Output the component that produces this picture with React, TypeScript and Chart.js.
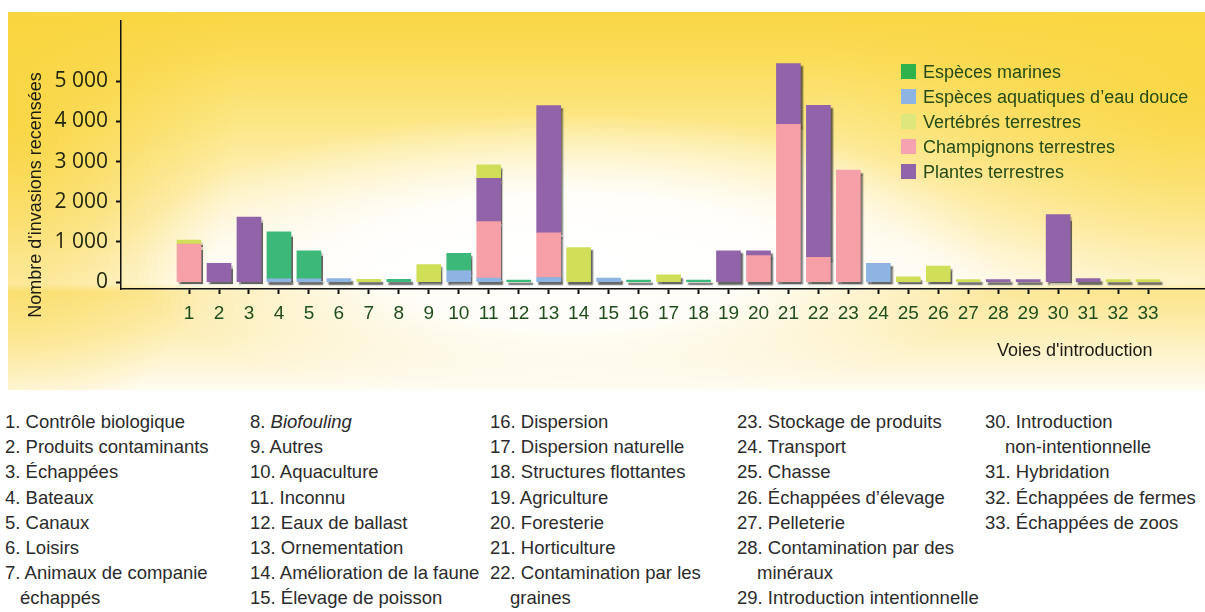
import React, { useEffect, useRef } from "react";
import { Chart, registerables } from "chart.js";

Chart.register(...registerables);

// ---------- Data ----------
const categories = [
  "1", "2", "3", "4", "5", "6", "7", "8", "9", "10", "11", "12", "13", "14", "15", "16", "17",
  "18", "19", "20", "21", "22", "23", "24", "25", "26", "27", "28", "29", "30", "31", "32", "33",
];

const yTickValues = [0, 1000, 2000, 3000, 4000, 5000];
const yTickLabels = ["0", "1 000", "2 000", "3 000", "4 000", "5 000"];

// Stack order (bottom -> top)
const freshwater = [0, 0, 0, 80, 80, 90, 0, 0, 0, 290, 100, 0, 115, 0, 100, 0, 0, 0, 0, 0, 0, 0, 0, 470, 0, 0, 0, 0, 0, 0, 0, 0, 0];
const marine = [0, 0, 0, 1170, 700, 0, 0, 70, 0, 425, 0, 50, 0, 0, 0, 50, 0, 50, 0, 0, 0, 0, 0, 0, 0, 0, 0, 0, 0, 0, 0, 0, 0];
const fungi = [950, 0, 0, 0, 0, 0, 0, 0, 0, 0, 1410, 0, 1110, 0, 0, 0, 0, 0, 0, 660, 3930, 620, 2790, 0, 0, 0, 0, 0, 0, 0, 0, 0, 0];
const plants = [0, 470, 1620, 0, 0, 0, 0, 0, 0, 0, 1075, 0, 3170, 0, 0, 0, 0, 0, 780, 120, 1510, 3780, 0, 0, 0, 0, 0, 65, 65, 1680, 90, 0, 0];
const vertebrates = [100, 0, 0, 0, 0, 0, 70, 0, 440, 0, 335, 0, 0, 860, 0, 0, 180, 0, 0, 0, 0, 0, 0, 0, 130, 400, 65, 0, 0, 0, 0, 65, 65];

const seriesLabels = [
  "Espèces aquatiques d’eau douce",
  "Espèces marines",
  "Champignons terrestres",
  "Plantes terrestres",
  "Vertébrés terrestres",
];
const seriesColors = ["#8db4e2", "#3cb878", "#f59fa7", "#9163a9", "#d1de58"];
const legendOrder = [1, 0, 4, 2, 3];
const legendBoxColors = ["#8db4e2", "#2fb24c", "#f6a2b0", "#9163a9", "#dde77c"];

const yAxisTitle = "Nombre d'invasions recensées";
const xAxisTitle = "Voies d'introduction";

const routeNames = [
  "Contrôle biologique",
  "Produits contaminants",
  "Échappées",
  "Bateaux",
  "Canaux",
  "Loisirs",
  "Animaux de companie\néchappés",
  "Biofouling",
  "Autres",
  "Aquaculture",
  "Inconnu",
  "Eaux de ballast",
  "Ornementation",
  "Amélioration de la faune",
  "Élevage de poisson",
  "Dispersion",
  "Dispersion naturelle",
  "Structures flottantes",
  "Agriculture",
  "Foresterie",
  "Horticulture",
  "Contamination par les\ngraines",
  "Stockage de produits",
  "Transport",
  "Chasse",
  "Échappées d’élevage",
  "Pelleterie",
  "Contamination par des\nminéraux",
  "Introduction intentionnelle",
  "Introduction\nnon-intentionnelle",
  "Hybridation",
  "Échappées de fermes",
  "Échappées de zoos",
];
const italicRoutes = [8];
const routeColumns = [
  [1, 2, 3, 4, 5, 6, 7],
  [8, 9, 10, 11, 12, 13, 14, 15],
  [16, 17, 18, 19, 20, 21, 22],
  [23, 24, 25, 26, 27, 28, 29],
  [30, 31, 32, 33],
];
const columnLeft = [5, 250, 490, 737, 985];

const series = [freshwater, marine, fungi, plants, vertebrates];

// ---------- Plugins ----------
const shadowPlugin = {
  id: "barShadow",
  beforeDatasetsDraw(chart: any) {
    const ctx = chart.ctx;
    ctx.save();
    ctx.shadowColor = "rgba(35,35,35,0.7)";
    ctx.shadowOffsetX = 2;
    ctx.shadowOffsetY = 3;
    ctx.shadowBlur = 1.5;
  },
  afterDatasetsDraw(chart: any) {
    chart.ctx.restore();
  },
};

const annotationPlugin = {
  id: "texts",
  afterDraw(chart: any) {
    const ctx = chart.ctx;
    ctx.save();
    // legend
    ctx.font = "18px 'Liberation Sans', Arial, sans-serif";
    ctx.textBaseline = "middle";
    ctx.textAlign = "left";
    legendOrder.forEach((si, row) => {
      const cy = 72 + row * 25;
      ctx.fillStyle = legendBoxColors[si];
      ctx.fillRect(901, cy - 8, 15, 15);
      ctx.fillStyle = "#234a17";
      ctx.fillText(seriesLabels[si], 923, cy + 1);
    });
    // y axis title
    ctx.save();
    ctx.translate(36, 195);
    ctx.rotate(-Math.PI / 2);
    ctx.textAlign = "center";
    ctx.fillStyle = "#1c1c14";
    ctx.font = "18px 'Liberation Sans', Arial, sans-serif";
    ctx.fillText(yAxisTitle, 0, 0);
    ctx.restore();
    // x axis title
    ctx.fillStyle = "#1c1c14";
    ctx.font = "18px 'Liberation Sans', Arial, sans-serif";
    ctx.textAlign = "left";
    ctx.fillText(xAxisTitle, 997, 351);
    ctx.restore();
  },
};

function BarChart() {
  const ref = useRef<HTMLCanvasElement | null>(null);
  useEffect(() => {
    if (!ref.current) return;
    const chart = new Chart(ref.current, {
      type: "bar",
      data: {
        datasets: series.map((vals, si) => ({
          label: seriesLabels[si],
          data: vals.map((v, i) => ({ x: Number(categories[i]), y: v === 0 ? null : v })),
          backgroundColor: seriesColors[si],
          borderWidth: 0,
          barThickness: 24,
          stack: "all",
        })),
      },
      options: {
        animation: false,
        responsive: false,
        devicePixelRatio: 1,
        layout: { padding: { top: 15, left: 0, right: 0, bottom: 0 } },
        plugins: { legend: { display: false }, tooltip: { enabled: false } },
        scales: {
          x: {
            type: "linear",
            stacked: true,
            offset: false,
            min: -1.27,
            max: 34.9,
            afterFit: (s: any) => {
              s.height = 111;
            },
            afterBuildTicks: (s: any) => {
              s.ticks = categories.map((c) => ({ value: Number(c) }));
            },
            grid: { offset: false, drawOnChartArea: false, drawTicks: true, tickLength: 5, tickColor: "#111", tickWidth: 2 },
            border: { display: true, color: "#111", width: 1.5 },
            ticks: {
              autoSkip: false,
              maxRotation: 0,
              padding: 8,
              color: "#1f4d1c",
              font: { family: "'Liberation Sans', Arial, sans-serif", size: 19 },
              callback: (v: any) => categories[Number(v) - 1] ?? "",
            },
          },
          y: {
            type: "linear",
            stacked: true,
            min: -171,
            max: 6512,
            afterFit: (s: any) => {
              s.width = 121;
            },
            afterBuildTicks: (s: any) => {
              s.ticks = yTickValues.map((v) => ({ value: v }));
            },
            grid: { drawOnChartArea: false, drawTicks: true, tickLength: 5, tickColor: "#111", tickWidth: 2 },
            border: { display: true, color: "#111", width: 1.5 },
            ticks: {
              autoSkip: false,
              padding: 8,
              color: "#23260f",
              font: { family: "'Open Sans', 'Liberation Sans', sans-serif", size: 21 },
              callback: (v: any) => yTickLabels[yTickValues.indexOf(Number(v))] ?? "",
            },
          },
        },
      },
      plugins: [shadowPlugin, annotationPlugin],
    } as any);
    return () => chart.destroy();
  }, []);
  return (
    <canvas
      ref={ref}
      width={1205}
      height={400}
      style={{ position: "absolute", left: 0, top: 0, width: 1205, height: 400 }}
    />
  );
}

export default function App() {
  return (
    <div
      style={{
        position: "absolute",
        left: 0,
        top: 0,
        width: 1205,
        height: 612,
        background: "#ffffff",
        overflow: "hidden",
        fontFamily: "'Liberation Sans', Arial, sans-serif",
      }}
    >
      <div
        style={{
          position: "absolute",
          left: 8,
          top: 12,
          width: 1197,
          height: 378,
          background: [
            "radial-gradient(ellipse 430px 150px at 560px 250px, rgba(255,255,255,1) 0%, rgba(255,255,255,0.9) 45%, rgba(255,255,255,0) 100%)",
            "radial-gradient(ellipse 230px 320px at 0px 110px, rgba(249,212,60,0.9) 0%, rgba(249,212,60,0.5) 50%, rgba(249,212,60,0) 100%)",
            "radial-gradient(ellipse 380px 260px at 1197px 70px, rgba(250,214,64,0.9) 0%, rgba(250,214,64,0.5) 50%, rgba(250,214,64,0) 100%)",
            "linear-gradient(to bottom, #fad643 0%, #fbdc58 12%, #fce788 30%, #fef3c8 50%, #fffaeb 64%, #fffcf2 72%, #fce9a0 74%, #fdefb8 85%, #fffbf0 100%)",
          ].join(", "),
        }}
      />
      <BarChart />
      {routeColumns.map((col, ci) => (
        <div
          key={ci}
          style={{
            position: "absolute",
            left: columnLeft[ci],
            top: 409,
            fontSize: 18.5,
            lineHeight: "25.2px",
            color: "#2b2b2b",
            whiteSpace: "nowrap",
          }}
        >
          {col.map((n) => {
            const lines = routeNames[n - 1].split("\n");
            const italic = italicRoutes.includes(n);
            return (
              <div key={n}>
                <div>
                  {n}. {italic ? <i>{lines[0]}</i> : lines[0]}
                </div>
                {lines.slice(1).map((l, li) => (
                  <div key={li} style={{ paddingLeft: n < 10 ? 15 : 20 }}>
                    {l}
                  </div>
                ))}
              </div>
            );
          })}
        </div>
      ))}
    </div>
  );
}
